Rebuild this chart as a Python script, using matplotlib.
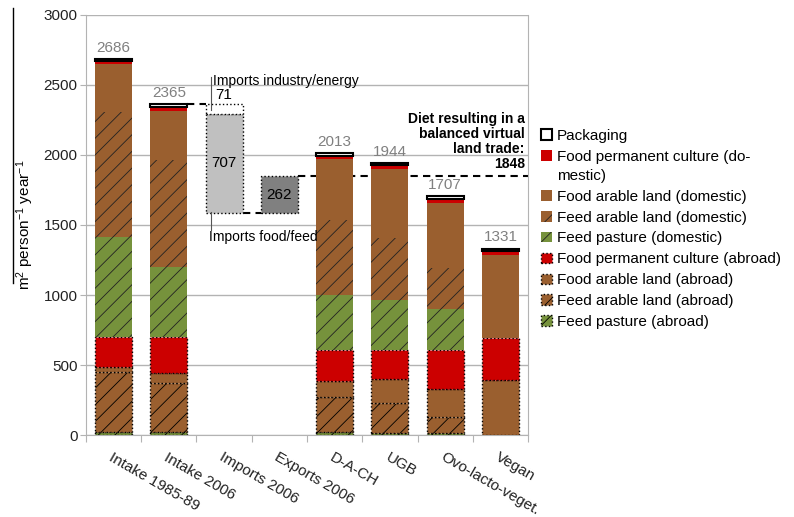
import matplotlib.pyplot as plt
import matplotlib.lines as mlines
import numpy as np

plt.rcParams['font.family'] = ['Liberation Sans', 'DejaVu Sans']
plt.rcParams['mathtext.default'] = 'regular'
plt.rcParams['hatch.linewidth'] = 0.6

categories = ["Intake 1985-89", "Intake 2006", "Imports 2006", "Exports 2006",
              "D-A-CH", "UGB", "Ovo-lacto-veget.", "Vegan"]

# land use per segment, m2 per person and year (stacked bottom to top)
feed_pasture_abroad = [25, 25, 0, 0, 20, 15, 12, 0]
feed_arable_abroad = [425, 345, 0, 0, 251, 213, 117, 0]
food_arable_abroad = [36, 70, 0, 0, 115, 172, 200, 393]
food_perm_abroad = [214, 260, 0, 0, 221, 207, 278, 300]
feed_pasture_dom = [714, 500, 0, 0, 393, 357, 290, 0]
feed_arable_dom = [896, 764, 0, 0, 536, 443, 296, 0]
food_arable_dom = [340, 353, 0, 0, 435, 493, 464, 593]
food_perm_dom = [20, 28, 0, 0, 22, 25, 30, 25]
packaging = [16, 20, 0, 0, 20, 19, 20, 20]

# virtual land trade
imports_food_feed = 707
imports_industry = 71
exports = 262
balanced_diet = 1848

BROWN = '#9A5F2F'
GREEN = '#76923C'
RED = '#CC0000'

segments = [
    ("Feed pasture (abroad)", feed_pasture_abroad, GREEN, '//', True),
    ("Feed arable land (abroad)", feed_arable_abroad, BROWN, '//', True),
    ("Food arable land (abroad)", food_arable_abroad, BROWN, None, True),
    ("Food permanent culture (abroad)", food_perm_abroad, RED, None, True),
    ("Feed pasture (domestic)", feed_pasture_dom, GREEN, '//', False),
    ("Feed arable land (domestic)", feed_arable_dom, BROWN, '//', False),
    ("Food arable land (domestic)", food_arable_dom, BROWN, None, False),
    ("Food permanent culture (do-\nmestic)", food_perm_dom, RED, None, False),
]

fig = plt.figure(figsize=(7.94, 5.17), dpi=100)
ax = fig.add_axes([0.1083, 0.1586, 0.5567, 0.8124])

x = np.arange(len(categories))
w = 0.67
diet = [0, 1, 4, 5, 6, 7]
xd = x[diet]

bottom = np.zeros(len(diet))
handles = []
for label, vals, color, hatch, abroad in segments:
    v = np.array(vals, dtype=float)[diet]
    if abroad:
        b = ax.bar(xd, v, w, bottom=bottom, color=color, hatch=hatch,
                   edgecolor='black', linewidth=1, linestyle=':', label=label, zorder=3)
    else:
        b = ax.bar(xd, v, w, bottom=bottom, color=color, hatch=hatch,
                   edgecolor='#222222' if hatch else color, linewidth=0,
                   label=label, zorder=3)
    handles.append(b)
    bottom += v
pk = np.array(packaging, dtype=float)[diet]
b = ax.bar(xd, pk, w, bottom=bottom, color='white', edgecolor='black',
           linewidth=1.5, label="Packaging", zorder=4)
handles.append(b)
bottom += pk

for xi, tot in zip(xd, bottom):
    ax.annotate(f"{tot:.0f}", (xi, tot), xytext=(0, 3), textcoords='offset points',
                ha='center', va='bottom', fontsize=11, color='#808080')

# imports and exports as floating boxes
base = balanced_diet - exports
ax.bar(2, imports_food_feed, w, bottom=base, color='#C0C0C0', edgecolor='black',
       linewidth=1, linestyle=':', zorder=3)
ax.bar(2, imports_industry, w, bottom=base + imports_food_feed, color='white',
       edgecolor='black', linewidth=1, linestyle=':', zorder=3)
ax.bar(3, exports, w, bottom=base, color='#808080', edgecolor='black',
       linewidth=1, linestyle=':', zorder=3)
ax.text(2, base + imports_food_feed / 2, str(imports_food_feed), ha='center',
        va='center', fontsize=11, zorder=5)
ax.text(2, base + imports_food_feed + imports_industry + 15, str(imports_industry),
        ha='center', va='bottom', fontsize=11, zorder=5)
ax.text(3, base + exports / 2, str(exports), ha='center', va='center',
        fontsize=11, zorder=5)

ax.text(1.79, 2530, "Imports industry/energy", ha='left', va='center', fontsize=10)
ax.plot([1.76, 1.76], [2560, 2320], color='#555555', lw=0.8, zorder=5)
ax.text(1.72, 1414, "Imports food/feed", ha='left', va='center', fontsize=10)
ax.plot([1.76, 1.76], [1593, 1464], color='#555555', lw=0.8, zorder=5)

dash = dict(color='black', lw=1.5, linestyle=(0, (3.5, 2.5)), zorder=2)
top_2006 = sum(v[1] for v in [feed_pasture_abroad, feed_arable_abroad, food_arable_abroad,
                               food_perm_abroad, feed_pasture_dom, feed_arable_dom,
                               food_arable_dom, food_perm_dom, packaging])
ax.plot([1 + w / 2, 2 - w / 2], [top_2006, top_2006], **dash)
ax.plot([2 + w / 2, 3 - w / 2], [base, base], **dash)
ax.plot([3 + w / 2, 7.5], [balanced_diet, balanced_diet], **dash)
ax.text(7.44, balanced_diet + 35,
        f"Diet resulting in a\nbalanced virtual\nland trade:\n{balanced_diet}",
        ha='right', va='bottom', fontsize=10, fontweight='bold', linespacing=1.1)

ax.set_xlim(-0.5, 7.5)
ax.set_ylim(0, 3000)
ax.set_yticks(np.arange(0, 3001, 500))
ax.yaxis.grid(True, color='#B3B3B3', lw=1)
ax.set_axisbelow(True)
for s in ['left', 'right', 'bottom']:
    ax.spines[s].set_color('#B3B3B3')
ax.spines['top'].set_visible(False)
ax.tick_params(axis='y', colors='#B3B3B3', labelcolor='#222222', labelsize=11,
               length=4, pad=2)

ax.set_xticks(np.arange(-0.5, 7.6, 1))
ax.set_xticklabels([])
ax.set_xticks(x, minor=True)
ax.set_xticklabels(categories, minor=True, rotation=-30, ha='left',
                   rotation_mode='anchor', fontsize=11, color='#222222')
ax.tick_params(axis='x', which='major', colors='#B3B3B3', length=5)
ax.tick_params(axis='x', which='minor', length=0, pad=11)

fig.text(25 / 794, 1 - 225 / 517, "m$^2$ person$^{-1}$ year$^{-1}$", rotation=90,
         ha='center', va='center', fontsize=11)
fig.add_artist(mlines.Line2D([13 / 794, 13 / 794], [1 - 8 / 517, 1 - 283 / 517],
                             color='black', lw=1))

leg = fig.legend(handles[::-1], [h.get_label() for h in handles[::-1]], loc='upper left',
                 bbox_to_anchor=(541 / 794, 1 - 129 / 517), frameon=False, fontsize=11,
                 handlelength=0.7, handleheight=0.7, handletextpad=0.35,
                 labelspacing=0.45, borderaxespad=0, borderpad=0)
for t in leg.get_texts():
    t.set_linespacing(1.45)
# keep the wrapped entry's swatch level with its first line
rows = [r for col in leg._legend_handle_box.get_children() for r in col.get_children()]
rows[1].align = 'top'

fig.savefig('out.png', dpi=100)
